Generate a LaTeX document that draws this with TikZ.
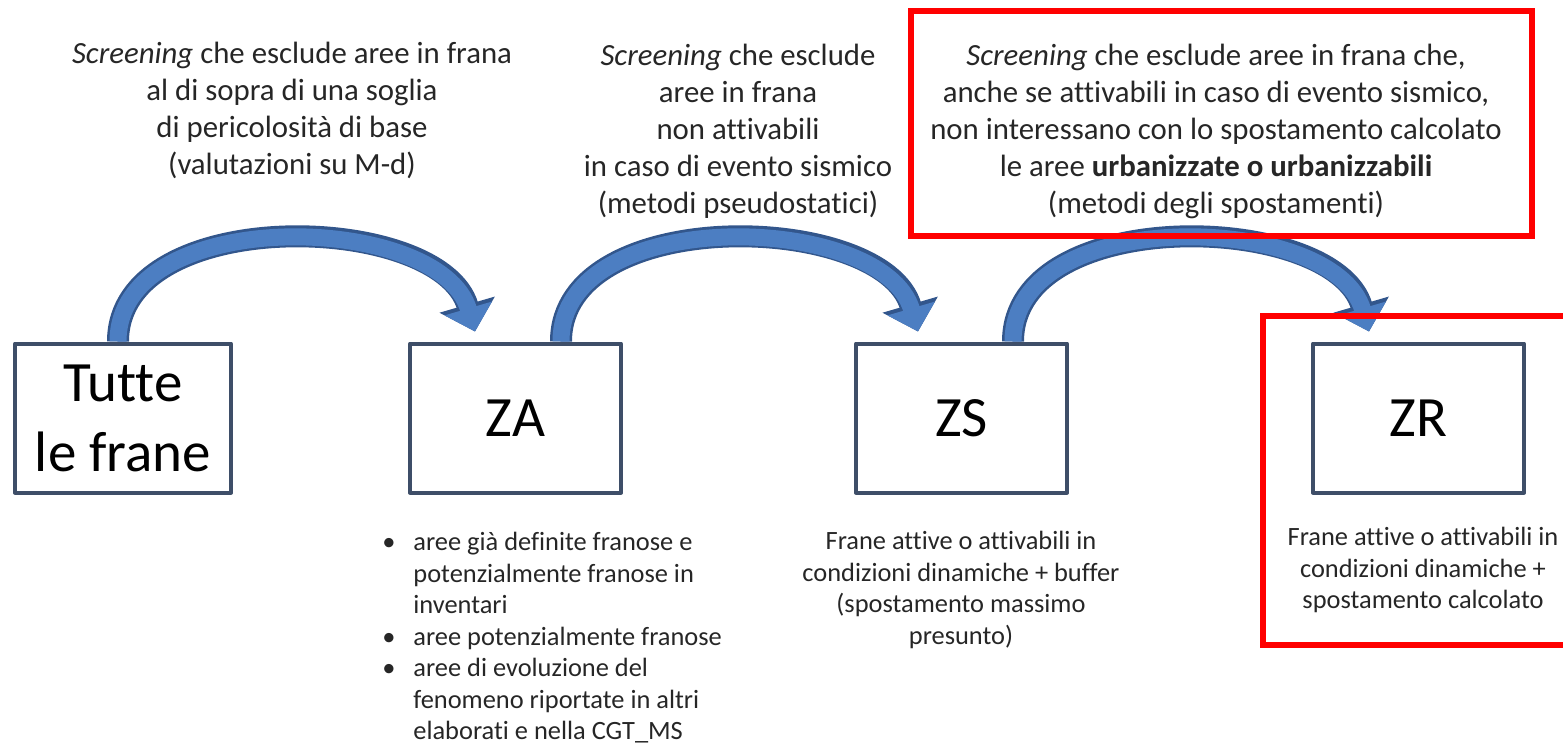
\documentclass[tikz,border=0pt]{standalone}
\usepackage{fontspec}
\setmainfont{Carlito}[Ligatures=NoCommon]
\usetikzlibrary{arrows.meta}
\usetikzlibrary{positioning}
\definecolor{boxgray}{RGB}{62,78,104}
\definecolor{arcblue}{RGB}{76,126,194}
\definecolor{arcdark}{RGB}{50,86,140}
\definecolor{framered}{RGB}{255,0,0}

\begin{document}
\begin{tikzpicture}[line cap=round,line join=round, x=0.5pt,y=-0.5pt,
  zbox/.style={draw=boxgray, line width=2pt, fill=white, minimum width=105.5pt, minimum height=74.5pt, inner sep=0pt, align=center, font=\fontsize{28.5}{35}\selectfont},
  toptext/.style={align=center, text=black!85, font=\fontsize{15.4}{18.5}\selectfont},
  subtext/.style={align=center, text=black!85, inner sep=0pt, font=\fontsize{13.2}{15.75}\selectfont},
  arcedge/.style={line width=11pt, line cap=butt, arcdark, -{Triangle[length=14pt, width=28pt]}},
  arcfill/.style={line width=8.5pt, line cap=butt, arcblue, -{Triangle[length=12pt, width=24pt]}},
  redframe/.style={draw=framered, line width=3pt, line cap=butt, line join=miter}]
\useasboundingbox (0,0) rectangle (1563,745);
\node[zbox, minimum width=108pt] (tutte) at (123,418) {Tutte\\le frane};
\node[zbox] (za) at (515.5,418) {ZA};
\node[zbox] (zs) at (961.5,418) {ZS};
\node[zbox] (zr) at (1418.5,418) {ZR};
\node[toptext] (scr1) at (292,110) {\textit{Screening} che esclude aree in frana\\al di sopra di una soglia\\di pericolosità di base\\(valutazioni su M-d)};
\node[toptext] (scr2) at (738,131) {\textit{Screening} che esclude\\aree in frana\\non attivabili\\in caso di evento sismico\\(metodi pseudostatici)};
\node[toptext] (scr3) at (1216,131) {\textit{Screening} che esclude aree in frana che,\\anche se attivabili in caso di evento sismico,\\non interessano con lo spostamento calcolato\\le aree \textbf{urbanizzate o urbanizzabili}\\(metodi degli spostamenti)};
\node[subtext, align=left, anchor=west] (zanote) at (413,638) {\llap{•\hspace{9pt}}aree già definite franose e\\potenzialmente franose in\\inventari\\\llap{•\hspace{9pt}}aree potenzialmente franose\\\llap{•\hspace{9pt}}aree di evoluzione del\\fenomeno riportate in altri\\elaborati e nella CGT\_MS};
\node[subtext] (zsnote) at (961,590) {Frane attive o attivabili in\\condizioni dinamiche + buffer\\(spostamento massimo\\presunto)};
\node[subtext] (zrnote) at (1423,570) {Frane attive o attivabili in\\condizioni dinamiche +\\spostamento calcolato};
\draw[arcedge] ([xshift=-2.5pt]tutte.north) .. controls +(0,-138) and +(-35,-120) .. ([xshift=-20.25pt,yshift=5pt]za.north);
\draw[arcfill] ([xshift=-2.5pt]tutte.north) .. controls +(0,-138) and +(-35,-120) .. ([xshift=-20.25pt,yshift=5pt]za.north);
\draw[arcedge] ([xshift=22.75pt]za.north) .. controls +(0,-138) and +(-35,-120) .. ([xshift=-21.75pt,yshift=5pt]zs.north);
\draw[arcfill] ([xshift=22.75pt]za.north) .. controls +(0,-138) and +(-35,-120) .. ([xshift=-21.75pt,yshift=5pt]zs.north);
\draw[arcedge] ([xshift=25.75pt]zs.north) .. controls +(0,-138) and +(-35,-120) .. ([xshift=-24.75pt,yshift=5pt]zr.north);
\draw[arcfill] ([xshift=25.75pt]zs.north) .. controls +(0,-138) and +(-35,-120) .. ([xshift=-24.75pt,yshift=5pt]zr.north);
\draw[redframe] (911,11) rectangle (1532,236);
\draw[redframe] (1563,316) -| (1263,645) -- (1563,645);
\end{tikzpicture}
\end{document}
